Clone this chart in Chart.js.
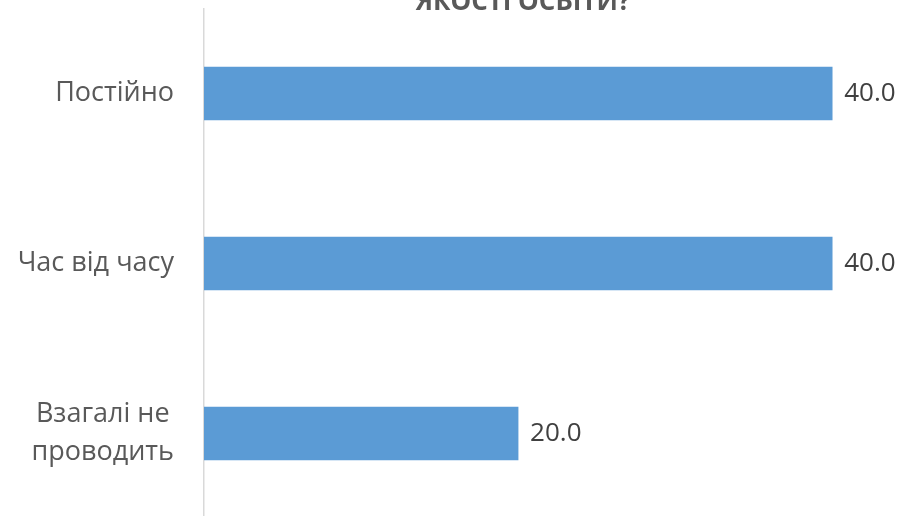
<!DOCTYPE html>
<html>
<head>
<meta charset="utf-8">
<script src="https://cdn.jsdelivr.net/npm/chart.js@4"></script>
<style>
  html, body { margin: 0; padding: 0; background: #fff; overflow: hidden; }
  canvas { display: block; }
</style>
</head>
<body>
<canvas id="chart" width="900" height="530"></canvas>
<script>
// Data
const categories = [["Постійно"], ["Час від часу"], ["Взагалі не", "проводить"]];
const values = [40.0, 40.0, 20.0];
const titleText = "ЯКОСТІ ОСВІТИ?";

const FONT = "'Open Sans', 'DejaVu Sans', sans-serif";

// draws the (cut off) title, category labels (lines centred, block right-aligned) and the value labels
const extras = {
    id: "extras",
    afterDatasetsDraw(chart) {
        const ctx = chart.ctx;
        const meta = chart.getDatasetMeta(0);
        const yScale = chart.scales.y;
        ctx.save();

        ctx.font = "27px " + FONT;
        ctx.fillStyle = "#595959";
        ctx.textAlign = "center";
        ctx.textBaseline = "middle";
        const lineH = 37.5;
        const rightEdge = yScale.right - 30;
        categories.forEach((lines, i) => {
            const yc = yScale.getPixelForValue(i);
            const maxW = Math.max(...lines.map(l => ctx.measureText(l).width));
            const xc = rightEdge - maxW / 2;
            lines.forEach((l, j) => {
                ctx.fillText(l, xc, yc + (j - (lines.length - 1) / 2) * lineH);
            });
        });

        ctx.font = "26px " + FONT;
        ctx.fillStyle = "#404040";
        ctx.textAlign = "left";
        meta.data.forEach((bar, i) => {
            ctx.fillText(values[i].toFixed(1), bar.x + 12, bar.y);
        });

        ctx.font = "bold 26px " + FONT;
        ctx.fillStyle = "#595959";
        ctx.textAlign = "center";
        ctx.textBaseline = "alphabetic";
        ctx.fillText(titleText, 523, 10);
        ctx.restore();
    }
};

new Chart(document.getElementById("chart"), {
    type: "bar",
    data: {
        labels: categories,
        datasets: [{
            data: values,
            backgroundColor: "#5b9bd5",
            barThickness: 53
        }]
    },
    options: {
        indexAxis: "y",
        responsive: false,
        animation: false,
        layout: { padding: { top: 8.5, bottom: 11.5, right: 5 } },
        plugins: {
            legend: { display: false },
            tooltip: { enabled: false }
        },
        scales: {
            x: {
                display: false,
                min: 0,
                max: 44
            },
            y: {
                afterFit(scale) {
                    scale.width = 204;
                    scale.paddingTop = 0;
                    scale.paddingBottom = 0;
                },
                grid: { display: false, drawTicks: false },
                border: { display: true, color: "#d9d9d9", width: 1.5 },
                ticks: { display: false }
            }
        }
    },
    plugins: [extras]
});
</script>
</body>
</html>
